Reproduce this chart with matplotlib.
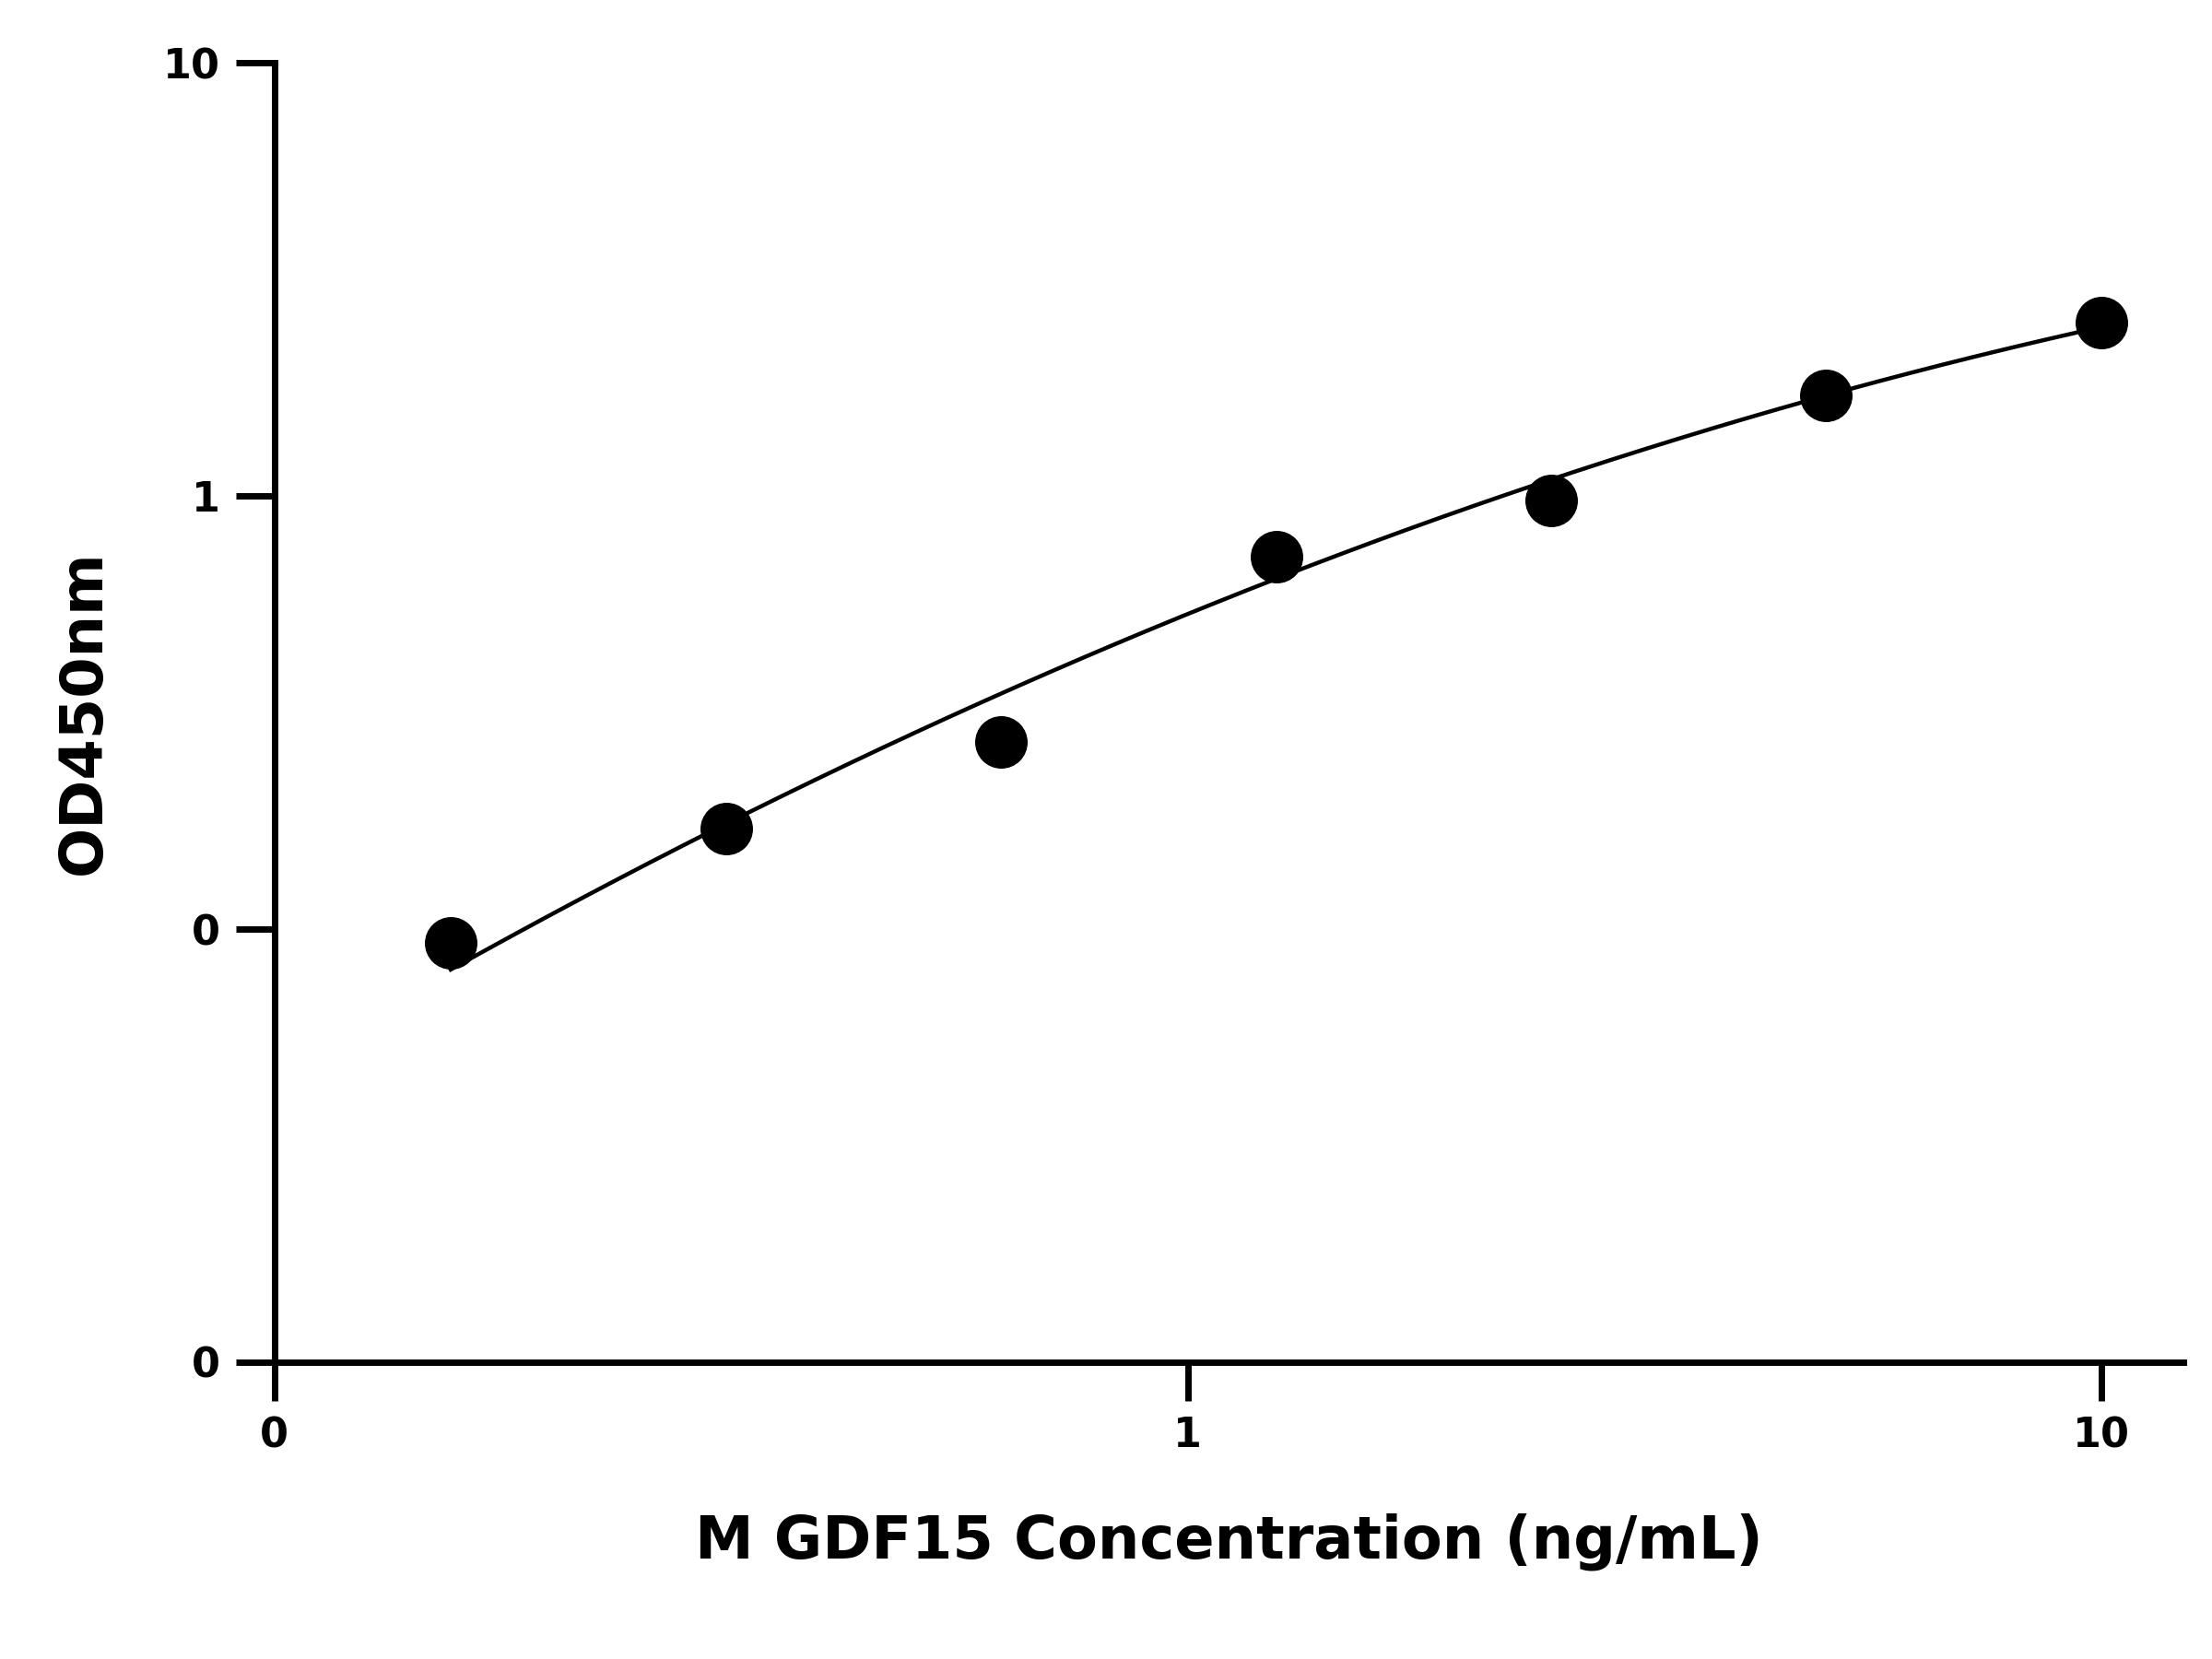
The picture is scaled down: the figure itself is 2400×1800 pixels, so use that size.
import numpy as np
import matplotlib.pyplot as plt
from matplotlib.ticker import FixedLocator, FixedFormatter, NullLocator

# standard concentrations (ng/mL) and measured OD
conc = [0.156, 0.3125, 0.625, 1.25, 2.5, 5, 10]
od = [0.093, 0.171, 0.271, 0.723, 0.977, 1.71, 2.51]
# fitted curve values read at the standards
fit_od = [0.0786, 0.18, 0.36, 0.64, 1.05, 1.71, 2.49]

xt = [0.1, 1, 10]
xt_labels = ['0', '1', '10']
yt = [0.01, 0.1, 1, 10]
yt_labels = ['0', '0', '1', '10']

fig = plt.figure(figsize=(24, 18), dpi=100)
ax = fig.add_axes([0.124, 0.179, 0.863, 0.783])

coef = np.polyfit(np.log10(conc), np.log10(fit_od), 2)
xs = np.logspace(np.log10(conc[0]), np.log10(conc[-1]), 200)
ax.plot(xs, 10 ** np.polyval(coef, np.log10(xs)), color='black', lw=3.2)
ax.plot(conc, od, 'o', color='black', ms=40, zorder=3)

ax.set_xscale('log')
ax.set_yscale('log')
ax.set_xlim(0.1, 12.3)
ax.set_ylim(0.01, 10)
ax.xaxis.set_major_locator(FixedLocator(xt))
ax.xaxis.set_major_formatter(FixedFormatter(xt_labels))
ax.yaxis.set_major_locator(FixedLocator(yt))
ax.yaxis.set_major_formatter(FixedFormatter(yt_labels))
ax.xaxis.set_minor_locator(NullLocator())
ax.yaxis.set_minor_locator(NullLocator())

for s in ['top', 'right']:
    ax.spines[s].set_visible(False)
for s in ['left', 'bottom']:
    ax.spines[s].set_linewidth(5)
ax.tick_params(width=5, length=30, labelsize=32, pad=12)
for lab in ax.get_xticklabels() + ax.get_yticklabels():
    lab.set_fontweight('bold')

ax.set_xlabel('M GDF15 Concentration (ng/mL)', fontsize=46, fontweight='bold', labelpad=45)
ax.set_ylabel('OD450nm', fontsize=46, fontweight='bold', labelpad=40)

fig.savefig('out.png')
